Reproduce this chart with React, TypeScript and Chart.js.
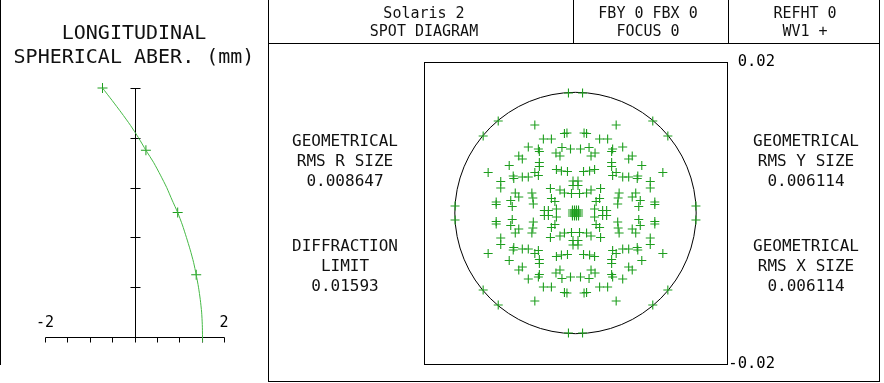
import React, { useEffect, useRef } from "react";
import { Chart, registerables } from "chart.js";

Chart.register(...registerables);

const FONT = '"DejaVu Sans Mono", "Liberation Mono", monospace';

// ---- Longitudinal spherical aberration (mm) vs. relative pupil height ----
const lsaPupil = [1.0, 0.95, 0.9, 0.85, 0.8, 0.75, 0.7, 0.65, 0.6, 0.55, 0.5, 0.45, 0.4, 0.35, 0.3, 0.25, 0.2, 0.15, 0.1, 0.05, 0.0, -0.02];
const lsaValue = [-0.715, -0.5, -0.29, -0.09, 0.09, 0.255, 0.43, 0.58, 0.72, 0.84, 0.965, 1.07, 1.16, 1.245, 1.32, 1.379, 1.43, 1.47, 1.5, 1.515, 1.52, 1.522];
const lsaMarkPupil = [1.0, 0.75, 0.5, 0.25];
const lsaMarkValue = [-0.715, 0.255, 0.965, 1.379];
const lsaXTicks = [-2, -1.5, -1, -0.5, 0, 0.5, 1, 1.5, 2];
const lsaYTicks = [0.2, 0.4, 0.6, 0.8, 1.0];
const lsaXLabelValues = [-2, 2];
const lsaXLabels = ["-2", "2"];

// ---- Spot diagram (mm) ----
const spotUpperLeft: [number, number][] = [
  [-0.00093, 0.0159], [-0.0102, 0.01219], [-0.01219, 0.0102], [-0.0159, 0.00093], [-0.00537, 0.01166],
  [-0.00146, 0.01053], [-0.00113, 0.0106], [-0.00424, 0.00981], [-0.00318, 0.00981], [-0.00623, 0.00875],
  [-0.0049, 0.00848], [-0.00477, 0.00815], [-0.00179, 0.00868], [-0.00066, 0.00848], [-0.00258, 0.00795],
  [-0.00205, 0.00755], [-0.00749, 0.00755], [-0.00702, 0.00716], [-0.00477, 0.00669], [-0.00477, 0.00616],
  [-0.00875, 0.00629], [-0.01153, 0.00537], [-0.00252, 0.00576], [-0.00186, 0.00557], [-0.00106, 0.0055],
  [-0.00822, 0.0049], [-0.00815, 0.00457], [-0.00702, 0.00477], [-0.00623, 0.00477], [-0.00537, 0.00537],
  [-0.0049, 0.00497], [-0.00987, 0.00417], [-0.00987, 0.00331], [-0.00033, 0.00424], [-0.00033, 0.00364],
  [-0.00331, 0.00325], [-0.00205, 0.00305], [-0.00146, 0.00265], [-0.00053, 0.00258], [-0.00795, 0.00265],
  [-0.00749, 0.00212], [-0.00576, 0.00265], [-0.00563, 0.00199], [-0.01047, 0.00146], [-0.01047, 0.00113],
  [-0.00855, 0.00166], [-0.00835, 0.00086], [-0.00557, 0.00119], [-0.00318, 0.00192], [-0.00272, 0.00152],
  [-0.00411, 0.00033], [-0.00358, 0.00033], [-0.00252, 0.00053], [-0.00013, 0.00013], [-0.0004, 0.00013],
  [-0.00013, 0.0004], [-0.0004, 0.0004],
];
const spotUpperRight: [number, number][] = [
  [0.00093, 0.0159], [0.0102, 0.01219], [0.01219, 0.0102], [0.0159, 0.00093], [0.00537, 0.01166],
  [0.00146, 0.01053], [0.00113, 0.0106], [0.00424, 0.00981], [0.00318, 0.00981], [0.00623, 0.00875],
  [0.0049, 0.00848], [0.00477, 0.00815], [0.00179, 0.00868], [0.00066, 0.00848], [0.00258, 0.00795],
  [0.00205, 0.00755], [0.00749, 0.00755], [0.00702, 0.00716], [0.00477, 0.00669], [0.00477, 0.00616],
  [0.00875, 0.00629], [0.01153, 0.00537], [0.00252, 0.00576], [0.00186, 0.00557], [0.00106, 0.0055],
  [0.00822, 0.0049], [0.00815, 0.00457], [0.00702, 0.00477], [0.00623, 0.00477], [0.00537, 0.00537],
  [0.0049, 0.00497], [0.00987, 0.00417], [0.00987, 0.00331], [0.00033, 0.00424], [0.00033, 0.00364],
  [0.00331, 0.00325], [0.00205, 0.00305], [0.00146, 0.00265], [0.00053, 0.00258], [0.00795, 0.00265],
  [0.00749, 0.00212], [0.00576, 0.00265], [0.00563, 0.00199], [0.01047, 0.00146], [0.01047, 0.00113],
  [0.00855, 0.00166], [0.00835, 0.00086], [0.00557, 0.00119], [0.00318, 0.00192], [0.00272, 0.00152],
  [0.00411, 0.00033], [0.00358, 0.00033], [0.00252, 0.00053], [0.00013, 0.00013], [0.0004, 0.00013],
  [0.00013, 0.0004], [0.0004, 0.0004],
];
const spotLowerLeft: [number, number][] = [
  [-0.00093, -0.0159], [-0.0102, -0.01219], [-0.01219, -0.0102], [-0.0159, -0.00093], [-0.00537, -0.01166],
  [-0.00146, -0.01053], [-0.00113, -0.0106], [-0.00424, -0.00981], [-0.00318, -0.00981], [-0.00623, -0.00875],
  [-0.0049, -0.00848], [-0.00477, -0.00815], [-0.00179, -0.00868], [-0.00066, -0.00848], [-0.00258, -0.00795],
  [-0.00205, -0.00755], [-0.00749, -0.00755], [-0.00702, -0.00716], [-0.00477, -0.00669], [-0.00477, -0.00616],
  [-0.00875, -0.00629], [-0.01153, -0.00537], [-0.00252, -0.00576], [-0.00186, -0.00557], [-0.00106, -0.0055],
  [-0.00822, -0.0049], [-0.00815, -0.00457], [-0.00702, -0.00477], [-0.00623, -0.00477], [-0.00537, -0.00537],
  [-0.0049, -0.00497], [-0.00987, -0.00417], [-0.00987, -0.00331], [-0.00033, -0.00424], [-0.00033, -0.00364],
  [-0.00331, -0.00325], [-0.00205, -0.00305], [-0.00146, -0.00265], [-0.00053, -0.00258], [-0.00795, -0.00265],
  [-0.00749, -0.00212], [-0.00576, -0.00265], [-0.00563, -0.00199], [-0.01047, -0.00146], [-0.01047, -0.00113],
  [-0.00855, -0.00166], [-0.00835, -0.00086], [-0.00557, -0.00119], [-0.00318, -0.00192], [-0.00272, -0.00152],
  [-0.00411, -0.00033], [-0.00358, -0.00033], [-0.00252, -0.00053], [-0.00013, -0.00013], [-0.0004, -0.00013],
  [-0.00013, -0.0004], [-0.0004, -0.0004],
];
const spotLowerRight: [number, number][] = [
  [0.00093, -0.0159], [0.0102, -0.01219], [0.01219, -0.0102], [0.0159, -0.00093], [0.00537, -0.01166],
  [0.00146, -0.01053], [0.00113, -0.0106], [0.00424, -0.00981], [0.00318, -0.00981], [0.00623, -0.00875],
  [0.0049, -0.00848], [0.00477, -0.00815], [0.00179, -0.00868], [0.00066, -0.00848], [0.00258, -0.00795],
  [0.00205, -0.00755], [0.00749, -0.00755], [0.00702, -0.00716], [0.00477, -0.00669], [0.00477, -0.00616],
  [0.00875, -0.00629], [0.01153, -0.00537], [0.00252, -0.00576], [0.00186, -0.00557], [0.00106, -0.0055],
  [0.00822, -0.0049], [0.00815, -0.00457], [0.00702, -0.00477], [0.00623, -0.00477], [0.00537, -0.00537],
  [0.0049, -0.00497], [0.00987, -0.00417], [0.00987, -0.00331], [0.00033, -0.00424], [0.00033, -0.00364],
  [0.00331, -0.00325], [0.00205, -0.00305], [0.00146, -0.00265], [0.00053, -0.00258], [0.00795, -0.00265],
  [0.00749, -0.00212], [0.00576, -0.00265], [0.00563, -0.00199], [0.01047, -0.00146], [0.01047, -0.00113],
  [0.00855, -0.00166], [0.00835, -0.00086], [0.00557, -0.00119], [0.00318, -0.00192], [0.00272, -0.00152],
  [0.00411, -0.00033], [0.00358, -0.00033], [0.00252, -0.00053], [0.00013, -0.00013], [0.0004, -0.00013],
  [0.00013, -0.0004], [0.0004, -0.0004],
];
const diffractionRadius = 0.01593;
const spotTickValues = [0.02, -0.02];
const spotTickLabels = ["0.02", "-0.02"];

// ---- Texts ----
const leftTitle = ["LONGITUDINAL", "SPHERICAL ABER. (mm)"];
const headerCells = [
  ["Solaris 2", "SPOT DIAGRAM"],
  ["FBY 0 FBX 0", "FOCUS 0"],
  ["REFHT 0", "WV1 +"],
];
const statsLeft = [
  ["GEOMETRICAL", "RMS R SIZE", "0.008647"],
  ["DIFFRACTION", "LIMIT", "0.01593"],
];
const statsRight = [
  ["GEOMETRICAL", "RMS Y SIZE", "0.006114"],
  ["GEOMETRICAL", "RMS X SIZE", "0.006114"],
];

const MARK = "#1e9e1e";
const CURVE = "#46b946";

const lsaAxesPlugin = {
  id: "lsaAxes",
  beforeDatasetsDraw(chart: any) {
    const { ctx } = chart;
    const xs = chart.scales.x;
    const ys = chart.scales.y;
    ctx.save();
    ctx.strokeStyle = "#000";
    ctx.lineWidth = 1;
    const x0 = Math.round(xs.getPixelForValue(0)) + 0.5;
    const y0 = Math.round(ys.getPixelForValue(0)) + 0.5;
    ctx.beginPath();
    ctx.moveTo(x0, Math.round(ys.getPixelForValue(1)) + 0.5);
    ctx.lineTo(x0, y0);
    for (const t of lsaYTicks) {
      const y = Math.round(ys.getPixelForValue(t)) + 0.5;
      ctx.moveTo(x0 - 5, y);
      ctx.lineTo(x0 + 5, y);
    }
    ctx.moveTo(Math.round(xs.getPixelForValue(-2)) + 0.5, y0);
    ctx.lineTo(Math.round(xs.getPixelForValue(2)) + 0.5, y0);
    for (const t of lsaXTicks) {
      const x = Math.round(xs.getPixelForValue(t)) + 0.5;
      ctx.moveTo(x, y0);
      ctx.lineTo(x, y0 + 5);
    }
    ctx.stroke();
    ctx.fillStyle = "#000";
    ctx.font = `15px ${FONT}`;
    ctx.textAlign = "center";
    ctx.textBaseline = "middle";
    lsaXLabelValues.forEach((v, i) => {
      ctx.fillText(lsaXLabels[i], xs.getPixelForValue(v), y0 - 14);
    });
    ctx.restore();
  },
};

const spotFramePlugin = {
  id: "spotFrame",
  beforeDatasetsDraw(chart: any) {
    const { ctx, chartArea } = chart;
    const xs = chart.scales.x;
    const ys = chart.scales.y;
    ctx.save();
    ctx.strokeStyle = "#000";
    ctx.lineWidth = 1;
    const l = Math.round(chartArea.left) + 0.5;
    const t = Math.round(chartArea.top) + 0.5;
    const r = Math.round(chartArea.right) + 0.5;
    const b = Math.round(chartArea.bottom) + 0.5;
    ctx.strokeRect(l, t, r - l, b - t);
    const cx = xs.getPixelForValue(0);
    const cy = ys.getPixelForValue(0);
    const rad = Math.abs(xs.getPixelForValue(diffractionRadius) - cx);
    ctx.beginPath();
    ctx.arc(cx, cy, rad, 0, Math.PI * 2);
    ctx.stroke();
    ctx.fillStyle = "#000";
    ctx.font = `15.5px ${FONT}`;
    ctx.textAlign = "right";
    ctx.textBaseline = "middle";
    spotTickValues.forEach((v, i) => {
      ctx.fillText(spotTickLabels[i], chartArea.right + 48, ys.getPixelForValue(v));
    });
    ctx.restore();
  },
};

function Line({ x, y, w, h }: { x: number; y: number; w: number; h: number }) {
  return <div style={{ position: "absolute", left: x, top: y, width: w, height: h, background: "#000" }} />;
}

function TextBlock({ cx, top, lines, size, lh }: { cx: number; top: number; lines: string[]; size: number; lh: number }) {
  return (
    <div
      style={{
        position: "absolute",
        left: cx - 160,
        top,
        width: 320,
        textAlign: "center",
        fontFamily: FONT,
        fontSize: size,
        lineHeight: `${lh}px`,
        color: "#111",
        whiteSpace: "pre",
        pointerEvents: "none",
      }}
    >
      {lines.map((s, i) => (
        <div key={i}>{s}</div>
      ))}
    </div>
  );
}

export default function App() {
  const leftRef = useRef<HTMLCanvasElement>(null);
  const spotRef = useRef<HTMLCanvasElement>(null);

  useEffect(() => {
    const lc = new Chart(leftRef.current as HTMLCanvasElement, {
      type: "scatter",
      data: {
        datasets: [
          {
            data: lsaPupil.map((p, i) => ({ x: lsaValue[i], y: p })),
            showLine: true,
            borderColor: CURVE,
            borderWidth: 1,
            pointRadius: 0,
            tension: 0.2,
            clip: false as any,
          },
          {
            data: lsaMarkPupil.map((p, i) => ({ x: lsaMarkValue[i], y: p })),
            showLine: false,
            pointStyle: "cross",
            pointRadius: 5,
            borderColor: MARK,
            borderWidth: 1,
            clip: false as any,
          },
        ],
      },
      options: {
        animation: false,
        responsive: false,
        devicePixelRatio: 1,
        layout: { padding: { left: 45, right: 44, top: 88, bottom: 46 } },
        scales: {
          x: { type: "linear", min: -2, max: 2, display: false },
          y: { type: "linear", min: 0, max: 1, display: false },
        },
        plugins: { legend: { display: false }, tooltip: { enabled: false } },
        events: [],
      },
      plugins: [lsaAxesPlugin],
    });

    const allSpots = [...spotUpperLeft, ...spotUpperRight, ...spotLowerLeft, ...spotLowerRight];
    const sc = new Chart(spotRef.current as HTMLCanvasElement, {
      type: "scatter",
      data: {
        datasets: [
          {
            data: allSpots.map(([x, y]) => ({ x, y })),
            pointStyle: "cross",
            pointRadius: 4.5,
            borderColor: MARK,
            borderWidth: 1.1,
            clip: false as any,
          },
        ],
      },
      options: {
        animation: false,
        responsive: false,
        devicePixelRatio: 1,
        layout: { padding: { left: 156, right: 157, top: 62, bottom: 19 } },
        scales: {
          x: { type: "linear", min: -0.02, max: 0.02, display: false },
          y: { type: "linear", min: -0.02, max: 0.02, display: false },
        },
        plugins: { legend: { display: false }, tooltip: { enabled: false } },
        events: [],
      },
      plugins: [spotFramePlugin],
    });

    return () => {
      lc.destroy();
      sc.destroy();
    };
  }, []);

  return (
    <div style={{ position: "fixed", left: 0, top: 0, width: 884, height: 383, background: "#fff", overflow: "hidden" }}>
      <canvas ref={leftRef} width={268} height={383} style={{ position: "absolute", left: 0, top: 0 }} />
      <canvas ref={spotRef} width={616} height={383} style={{ position: "absolute", left: 268, top: 0 }} />

      <Line x={0} y={0} w={1} h={365} />
      <Line x={268} y={0} w={1} h={382} />
      <Line x={879} y={0} w={1} h={382} />
      <Line x={268} y={43} w={612} h={1} />
      <Line x={268} y={381} w={612} h={1} />
      <Line x={573} y={0} w={1} h={43} />
      <Line x={728} y={0} w={1} h={43} />

      <TextBlock cx={134} top={20} lines={leftTitle} size={20} lh={24} />

      <TextBlock cx={424} top={4} lines={headerCells[0]} size={15} lh={18} />
      <TextBlock cx={648} top={4} lines={headerCells[1]} size={15} lh={18} />
      <TextBlock cx={805} top={4} lines={headerCells[2]} size={15} lh={18} />

      <TextBlock cx={345} top={131} lines={statsLeft[0]} size={16} lh={20} />
      <TextBlock cx={345} top={236} lines={statsLeft[1]} size={16} lh={20} />
      <TextBlock cx={806} top={131} lines={statsRight[0]} size={16} lh={20} />
      <TextBlock cx={806} top={236} lines={statsRight[1]} size={16} lh={20} />
    </div>
  );
}
